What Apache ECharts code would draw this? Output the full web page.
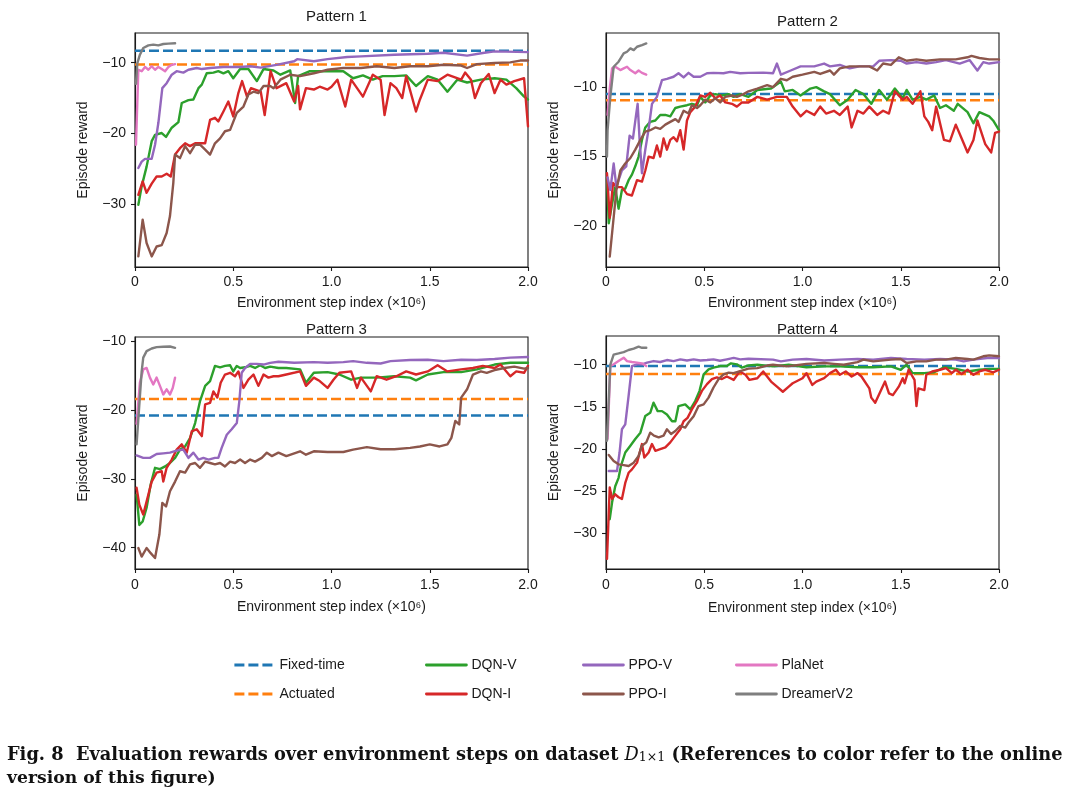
<!DOCTYPE html>
<html><head><meta charset="utf-8">
<script src="https://cdn.jsdelivr.net/npm/echarts@6/dist/echarts.min.js"></script>
<style>html,body{margin:0;padding:0;background:#fff}#c{width:1080px;height:801px}</style>
</head><body><div id="c"></div>
<script>
// ---------------- data (x in millions of steps, y = episode reward) ----------------
const xTicks = [0, 0.5, 1.0, 1.5, 2.0];
const xTickLabels = ['0', '0.5', '1.0', '1.5', '2.0'];

// Pattern 1
const p1_fixed = -8.3, p1_act = -10.25;
const p1_yticks = [-30, -20, -10];
const p1_dqnv = [[0.017,-30.1],[0.034,-27.5],[0.059,-24.7],[0.085,-21.1],[0.102,-20.2],[0.136,-19.95],[0.158,-20.5],[0.187,-19.2],[0.221,-18.4],[0.238,-15.7],[0.272,-15.3],[0.297,-15.2],[0.323,-13.6],[0.34,-13.1],[0.365,-11.5],[0.399,-11.4],[0.424,-11.2],[0.45,-11.5],[0.475,-11.2],[0.5,-12.2],[0.535,-10.9],[0.577,-10.9],[0.62,-12.6],[0.654,-10.9],[0.705,-11.1],[0.74,-11.7],[0.79,-11.1],[0.815,-15.7],[0.83,-11.9],[0.89,-11.2],[0.98,-11.2],[1.06,-11.2],[1.11,-12.2],[1.16,-11.8],[1.21,-12.4],[1.26,-11.9],[1.32,-11.9],[1.38,-11.8],[1.43,-13.3],[1.49,-11.9],[1.54,-12.4],[1.59,-14.1],[1.64,-12.4],[1.69,-12.8],[1.76,-12.4],[1.83,-12.2],[1.89,-12.4],[1.94,-13.6],[1.98,-14.8],[2.0,-15.2]];
const p1_dqni = [[0.017,-28.7],[0.039,-26.8],[0.059,-28.4],[0.085,-27.1],[0.11,-26.1],[0.136,-26.1],[0.161,-25.7],[0.182,-26.1],[0.204,-23],[0.229,-22.1],[0.255,-21.4],[0.28,-21.8],[0.306,-21.4],[0.331,-21.4],[0.357,-21.4],[0.382,-18.1],[0.407,-17.8],[0.424,-18.3],[0.45,-16.9],[0.475,-15.5],[0.5,-17.6],[0.526,-14.3],[0.545,-12.6],[0.57,-14.8],[0.59,-13.6],[0.64,-14.1],[0.66,-17.4],[0.69,-11.2],[0.72,-13.6],[0.77,-12.9],[0.81,-15.5],[0.83,-13.3],[0.84,-16.6],[0.87,-13.6],[0.91,-13.8],[0.94,-13.4],[0.98,-13.8],[1.0,-13.4],[1.03,-12.4],[1.07,-16.2],[1.1,-12.4],[1.13,-13.6],[1.16,-14.8],[1.21,-11.7],[1.25,-12.4],[1.27,-17.4],[1.3,-12.9],[1.33,-13.6],[1.36,-15],[1.38,-11.9],[1.43,-16.9],[1.45,-15.2],[1.49,-12.4],[1.54,-12.6],[1.59,-11.7],[1.66,-12.4],[1.68,-11.4],[1.71,-12.4],[1.73,-15],[1.76,-12.9],[1.8,-11.6],[1.83,-14.3],[1.86,-12.4],[1.89,-13.1],[1.93,-12.6],[1.98,-12.2],[2.0,-19]];
const p1_ppov = [[0.017,-24.9],[0.034,-24],[0.051,-23.6],[0.085,-23.6],[0.102,-21.6],[0.119,-18.5],[0.139,-13.6],[0.161,-12.9],[0.187,-11.7],[0.212,-11.2],[0.246,-11.4],[0.272,-11],[0.314,-10.75],[0.34,-10.9],[0.382,-10.75],[0.45,-10.6],[0.535,-10.6],[0.586,-10.5],[0.64,-10.7],[0.72,-10.3],[0.81,-9.8],[0.825,-9.5],[0.91,-9.8],[0.98,-9.5],[1.08,-9.2],[1.15,-9.1],[1.32,-8.87],[1.49,-8.73],[1.57,-8.6],[1.69,-9.0],[1.77,-8.63],[1.83,-8.4],[2.0,-8.5]];
const p1_ppoi = [[0.017,-37.4],[0.039,-32.2],[0.059,-35.5],[0.085,-37.4],[0.11,-36],[0.136,-35.8],[0.161,-34.1],[0.178,-31.7],[0.195,-27],[0.204,-23],[0.229,-23.5],[0.255,-21.8],[0.28,-22.8],[0.306,-21.6],[0.331,-21.6],[0.357,-22.3],[0.382,-23],[0.407,-21.4],[0.433,-20.7],[0.458,-19.7],[0.484,-19.5],[0.518,-17.1],[0.552,-16.2],[0.577,-14.5],[0.603,-14.1],[0.628,-14.3],[0.654,-13.3],[0.688,-13.3],[0.705,-13.6],[0.74,-12.4],[0.79,-11.7],[0.84,-11.9],[0.91,-11.5],[0.98,-11],[1.06,-10.75],[1.15,-10.75],[1.23,-10.5],[1.32,-10.75],[1.4,-10.5],[1.49,-10.5],[1.57,-10.3],[1.66,-10.4],[1.69,-10.75],[1.74,-10.2],[1.83,-10.05],[1.91,-9.95],[1.96,-9.7],[2.0,-9.7]];
const p1_planet = [[0.005,-21.6],[0.017,-11],[0.034,-11.2],[0.051,-10.6],[0.068,-11],[0.085,-10.5],[0.102,-11],[0.119,-10.6],[0.136,-10.9],[0.153,-11.2],[0.17,-10.6],[0.187,-10.3],[0.204,-10.2]];
const p1_dreamer = [[0.005,-13],[0.012,-10.05],[0.025,-8.87],[0.042,-7.92],[0.068,-7.55],[0.093,-7.45],[0.119,-7.55],[0.144,-7.36],[0.17,-7.31],[0.204,-7.26]];

// Pattern 2
const p2_fixed = -10.5, p2_act = -10.95;
const p2_yticks = [-20, -15, -10];
const p2_dqnv = [[0.005,-16.5],[0.014,-19.8],[0.031,-18.4],[0.047,-17.2],[0.064,-18.75],[0.081,-17.4],[0.098,-17.3],[0.115,-16.7],[0.132,-16.3],[0.149,-15.7],[0.166,-15],[0.183,-13.8],[0.2,-12.9],[0.225,-12.5],[0.251,-12.4],[0.276,-12.0],[0.302,-12.0],[0.327,-12.1],[0.353,-11.5],[0.378,-11.4],[0.412,-11.3],[0.437,-11.2],[0.463,-11.3],[0.48,-10.7],[0.505,-11.1],[0.531,-10.6],[0.556,-10.5],[0.59,-10.6],[0.624,-10.5],[0.649,-10.7],[0.683,-10.5],[0.725,-10.7],[0.77,-10.2],[0.84,-10.1],[0.89,-9.6],[0.91,-10.3],[0.95,-10.2],[0.99,-10.6],[1.04,-10.1],[1.07,-10],[1.11,-10.3],[1.14,-10.5],[1.19,-11.3],[1.23,-10.9],[1.27,-10.2],[1.31,-10.5],[1.35,-11.2],[1.39,-10.2],[1.43,-10.9],[1.47,-10.1],[1.51,-10.8],[1.53,-10.2],[1.56,-10.9],[1.6,-10.7],[1.63,-10.9],[1.67,-10.6],[1.7,-11.5],[1.73,-11.3],[1.77,-11.7],[1.79,-11.2],[1.84,-11.8],[1.87,-12.6],[1.9,-11.8],[1.95,-12.1],[1.97,-12.4],[2.0,-13.1]];
const p2_dqni = [[0.005,-16.2],[0.019,-19.4],[0.036,-16.9],[0.056,-17.2],[0.081,-17.2],[0.107,-17.7],[0.132,-17.8],[0.158,-16.7],[0.183,-16.8],[0.2,-16],[0.217,-15],[0.242,-15.1],[0.259,-14.2],[0.276,-15.0],[0.293,-13.7],[0.31,-14.5],[0.327,-13.8],[0.344,-13.6],[0.361,-13.9],[0.378,-13.1],[0.395,-14.5],[0.412,-12.4],[0.429,-11.8],[0.454,-11.4],[0.48,-10.6],[0.505,-10.7],[0.531,-10.4],[0.556,-10.8],[0.581,-10.6],[0.607,-11.1],[0.641,-11.2],[0.666,-11.4],[0.692,-11.1],[0.725,-11.1],[0.77,-10.7],[0.82,-10.9],[0.87,-10.7],[0.92,-10.7],[0.95,-11.4],[0.99,-12.1],[1.02,-11.7],[1.06,-12],[1.09,-11.4],[1.12,-11.9],[1.16,-11.7],[1.19,-12],[1.23,-11.4],[1.25,-12.9],[1.28,-11.7],[1.31,-11.9],[1.34,-11.4],[1.38,-12],[1.41,-11.7],[1.44,-11.9],[1.47,-10.3],[1.51,-10.9],[1.53,-10.7],[1.56,-11.2],[1.6,-10.3],[1.62,-12.1],[1.64,-12.5],[1.66,-13.1],[1.68,-11.4],[1.72,-13.8],[1.75,-13.9],[1.78,-12.7],[1.81,-13.7],[1.84,-14.7],[1.87,-13.8],[1.89,-12.4],[1.93,-14.1],[1.96,-14.7],[1.98,-13.3],[2.0,-13.2]];
const p2_ppov = [[0.008,-16.5],[0.022,-17.4],[0.039,-15.5],[0.053,-17.2],[0.064,-16.7],[0.081,-16],[0.103,-15.7],[0.12,-13.5],[0.137,-13.7],[0.154,-11.9],[0.161,-11.2],[0.171,-13.8],[0.183,-16.2],[0.2,-14.5],[0.217,-13],[0.234,-11.2],[0.259,-10.7],[0.285,-9.5],[0.31,-9.4],[0.344,-9.25],[0.369,-9.0],[0.395,-9.3],[0.42,-8.97],[0.446,-9.25],[0.48,-9.25],[0.514,-9.0],[0.547,-8.97],[0.598,-9.0],[0.632,-8.9],[0.683,-9.0],[0.725,-8.97],[0.8,-8.95],[0.85,-9.0],[0.87,-8.3],[0.89,-9.1],[0.94,-8.8],[0.99,-8.5],[1.06,-8.5],[1.11,-8.3],[1.14,-8.5],[1.19,-8.4],[1.24,-8.65],[1.29,-8.5],[1.36,-8.5],[1.39,-8.1],[1.45,-8.05],[1.5,-8.1],[1.53,-8.3],[1.58,-8.2],[1.63,-8.3],[1.68,-8.2],[1.73,-8.05],[1.8,-8.3],[1.85,-8.05],[1.89,-8.8],[1.92,-8.2],[1.95,-8.3],[2.0,-8.2]];
const p2_ppoi = [[0.019,-22.2],[0.036,-19.8],[0.053,-17.4],[0.073,-16],[0.098,-15.5],[0.124,-15.1],[0.149,-14.5],[0.175,-13.8],[0.2,-13.2],[0.225,-13.1],[0.251,-12.9],[0.276,-13],[0.302,-12.7],[0.327,-12.5],[0.353,-12.3],[0.369,-12.5],[0.395,-11.7],[0.42,-11.9],[0.437,-11.3],[0.463,-11.5],[0.48,-11.3],[0.505,-10.9],[0.531,-11.1],[0.556,-10.8],[0.581,-11.1],[0.607,-10.7],[0.641,-10.6],[0.666,-10.7],[0.7,-10.5],[0.725,-10.3],[0.77,-10.1],[0.82,-9.85],[0.85,-10],[0.89,-9.4],[0.92,-9.5],[0.95,-9.25],[1.0,-9.1],[1.06,-8.9],[1.09,-9.05],[1.14,-8.8],[1.16,-9.1],[1.19,-8.65],[1.24,-8.5],[1.29,-8.5],[1.34,-8.5],[1.38,-8.8],[1.41,-8.3],[1.45,-8.4],[1.49,-7.85],[1.53,-8.1],[1.58,-8.0],[1.63,-8.1],[1.7,-8.0],[1.78,-8.0],[1.84,-7.85],[1.86,-7.75],[1.9,-7.9],[1.95,-8.0],[2.0,-8.0]];
const p2_planet = [[0.008,-12],[0.019,-10.1],[0.031,-8.65],[0.047,-8.53],[0.073,-8.77],[0.09,-8.65],[0.107,-8.53],[0.124,-8.77],[0.149,-9.0],[0.166,-8.8],[0.183,-8.97],[0.205,-9.1]];
const p2_dreamer = [[0.005,-15],[0.008,-13.1],[0.022,-10.7],[0.039,-8.53],[0.064,-8.17],[0.09,-7.57],[0.107,-7.45],[0.124,-7.21],[0.141,-7.33],[0.158,-7.09],[0.183,-6.97],[0.205,-6.85]];

// Pattern 3
const p3_fixed = -20.8, p3_act = -18.4;
const p3_yticks = [-40, -30, -20, -10];
const p3_dqnv = [[0.008,-32.3],[0.022,-36.7],[0.039,-36.2],[0.059,-34.2],[0.08,-30.8],[0.102,-28.4],[0.127,-28.6],[0.153,-28.2],[0.178,-27.7],[0.204,-26.96],[0.229,-25.75],[0.255,-25.3],[0.28,-24.1],[0.306,-21.9],[0.331,-18.7],[0.357,-16.5],[0.382,-15.8],[0.407,-13.6],[0.433,-13.8],[0.458,-13.6],[0.484,-13.5],[0.5,-14.4],[0.518,-13.6],[0.535,-13.9],[0.56,-13.8],[0.586,-13.6],[0.611,-13.9],[0.637,-13.5],[0.662,-13.9],[0.688,-13.7],[0.73,-13.9],[0.77,-13.9],[0.84,-14.1],[0.87,-16.05],[0.91,-14.6],[0.98,-14.5],[1.04,-14.85],[1.1,-15.6],[1.15,-15.3],[1.23,-15.3],[1.32,-15.1],[1.4,-15.3],[1.43,-15.7],[1.49,-14.85],[1.57,-14.5],[1.66,-14.5],[1.74,-14.1],[1.83,-13.4],[1.91,-13.15],[2.0,-13.15]];
const p3_dqni = [[0.008,-31.3],[0.022,-33.75],[0.042,-35.2],[0.068,-32.3],[0.085,-30.4],[0.11,-29.1],[0.136,-28.9],[0.144,-30.4],[0.161,-28.4],[0.187,-27.2],[0.212,-25.75],[0.238,-25.0],[0.263,-26.2],[0.289,-23.1],[0.314,-22.8],[0.34,-23.8],[0.357,-19.2],[0.382,-18.97],[0.399,-17.3],[0.419,-18.2],[0.436,-16.05],[0.458,-14.85],[0.484,-14.6],[0.509,-15.1],[0.526,-14.4],[0.552,-16.8],[0.577,-15.6],[0.603,-14.85],[0.628,-16.5],[0.654,-14.85],[0.679,-15.3],[0.705,-15.1],[0.73,-15.1],[0.77,-14.85],[0.84,-14.4],[0.87,-16.5],[0.91,-15.3],[0.94,-15.8],[0.98,-16.8],[1.01,-15.6],[1.04,-14.6],[1.1,-14.4],[1.13,-16.8],[1.15,-15.3],[1.18,-16.5],[1.2,-17.3],[1.23,-15.1],[1.28,-15.6],[1.33,-15.1],[1.38,-14.4],[1.43,-14.85],[1.49,-14.4],[1.54,-13.5],[1.59,-14.4],[1.66,-14.1],[1.72,-13.9],[1.77,-13.6],[1.83,-13.9],[1.86,-13.4],[1.91,-15.1],[1.94,-14.4],[1.98,-14.6],[2.0,-13.6]];
const p3_ppov = [[0.008,-26.6],[0.042,-26.96],[0.076,-26.96],[0.11,-26.4],[0.144,-26.3],[0.178,-26.2],[0.212,-25.9],[0.246,-25.75],[0.272,-26.96],[0.297,-26.2],[0.323,-27.2],[0.348,-26.96],[0.374,-27.2],[0.407,-26.96],[0.424,-26.96],[0.441,-25.5],[0.467,-23.6],[0.492,-22.8],[0.518,-21.9],[0.531,-18.7],[0.543,-14.6],[0.56,-13.9],[0.586,-13.3],[0.62,-13.3],[0.654,-13.4],[0.688,-13.15],[0.73,-13],[0.81,-13.15],[0.91,-13.05],[0.98,-13.15],[1.06,-13.05],[1.11,-12.9],[1.18,-13.15],[1.25,-13.25],[1.3,-12.9],[1.4,-12.75],[1.49,-12.7],[1.57,-12.9],[1.66,-12.7],[1.74,-12.75],[1.83,-12.6],[1.91,-12.4],[2.0,-12.3]];
const p3_ppoi = [[0.017,-40.05],[0.034,-41.3],[0.059,-40.05],[0.08,-40.8],[0.102,-41.5],[0.124,-38.1],[0.139,-33.5],[0.158,-34],[0.178,-31.8],[0.204,-30.4],[0.229,-28.9],[0.255,-29.1],[0.28,-27.9],[0.306,-27.7],[0.331,-28.4],[0.357,-27.5],[0.382,-27.7],[0.407,-27.9],[0.433,-27.7],[0.458,-28.2],[0.484,-27.5],[0.509,-27.7],[0.535,-27.2],[0.56,-27.7],[0.586,-27.2],[0.611,-27.5],[0.645,-26.96],[0.671,-26.2],[0.696,-26.7],[0.73,-26.2],[0.77,-26.7],[0.84,-26.0],[0.87,-26.5],[0.91,-26.0],[0.98,-26.1],[1.06,-26.1],[1.11,-25.75],[1.18,-25.4],[1.25,-25.7],[1.32,-25.7],[1.4,-25.5],[1.45,-25.3],[1.5,-25.0],[1.55,-25.3],[1.59,-25.0],[1.61,-24.05],[1.63,-21.6],[1.65,-22.1],[1.66,-18.2],[1.69,-17.0],[1.72,-14.85],[1.76,-14.4],[1.79,-14.6],[1.83,-14.2],[1.88,-13.9],[1.93,-13.7],[1.98,-14.0],[2.0,-13.9]];
const p3_planet = [[0.008,-22],[0.025,-16],[0.042,-14.1],[0.059,-13.9],[0.076,-15.3],[0.093,-16.3],[0.11,-15.3],[0.127,-16.5],[0.144,-17.75],[0.161,-17],[0.178,-17.75],[0.192,-16.8],[0.204,-15.3]];
const p3_dreamer = [[0.008,-25],[0.025,-18],[0.034,-14.4],[0.042,-12.4],[0.059,-11.45],[0.085,-11.07],[0.11,-10.87],[0.144,-10.82],[0.178,-10.78],[0.204,-10.97]];

// Pattern 4
const p4_fixed = -10.15, p4_act = -11.1;
const p4_yticks = [-30, -25, -20, -15, -10];
const p4_dqnv = [[0.019,-28.3],[0.031,-26.3],[0.047,-24.4],[0.064,-23.4],[0.076,-22.0],[0.098,-20.4],[0.124,-19.6],[0.149,-18.8],[0.175,-18.05],[0.2,-16.07],[0.225,-15.7],[0.242,-14.5],[0.263,-15.5],[0.285,-15.5],[0.31,-15.9],[0.336,-16.7],[0.353,-16.7],[0.369,-14.9],[0.403,-14.7],[0.429,-15.3],[0.454,-14.3],[0.476,-13.1],[0.497,-11.15],[0.522,-10.55],[0.547,-10.35],[0.581,-10.16],[0.615,-10.16],[0.636,-9.84],[0.666,-9.96],[0.692,-10.35],[0.725,-10.08],[0.77,-10.0],[0.85,-10.2],[0.93,-10.0],[1.02,-10.3],[1.11,-10.2],[1.19,-10.2],[1.28,-10.3],[1.36,-10.3],[1.45,-10.2],[1.5,-10.6],[1.53,-10.0],[1.56,-11.0],[1.62,-11.0],[1.67,-10.9],[1.72,-10.3],[1.78,-10.5],[1.84,-10.8],[1.9,-10.6],[1.95,-10.5],[2.0,-10.5]];
const p4_dqni = [[0.005,-33.0],[0.019,-24.55],[0.031,-25.9],[0.047,-25.35],[0.064,-25.7],[0.081,-25.9],[0.098,-24.0],[0.115,-22.8],[0.132,-22.4],[0.158,-21.6],[0.183,-19.4],[0.195,-21.0],[0.217,-20.4],[0.234,-19.4],[0.251,-20.2],[0.276,-20.0],[0.302,-19.8],[0.327,-19.2],[0.353,-18.4],[0.378,-17.65],[0.395,-16.7],[0.415,-16.3],[0.437,-15.3],[0.463,-14.3],[0.488,-13.1],[0.514,-12.3],[0.539,-11.7],[0.564,-11.5],[0.59,-11.7],[0.615,-11.4],[0.65,-11.8],[0.68,-10.8],[0.71,-11.2],[0.73,-11.8],[0.77,-11.6],[0.8,-10.8],[0.84,-12],[0.87,-12.6],[0.9,-13.2],[0.93,-12.6],[0.95,-12.2],[1.0,-11.6],[1.02,-11],[1.05,-12.4],[1.07,-12.0],[1.11,-11.6],[1.14,-11.0],[1.17,-10.6],[1.19,-11.2],[1.22,-10.8],[1.25,-11.4],[1.28,-11.0],[1.3,-11.4],[1.34,-12.8],[1.35,-13.9],[1.37,-14.5],[1.4,-13.0],[1.42,-12],[1.44,-13.4],[1.46,-13.6],[1.49,-12.6],[1.51,-11.6],[1.52,-12.2],[1.54,-10.6],[1.57,-11.8],[1.58,-14.9],[1.59,-12.8],[1.62,-13.0],[1.63,-11.2],[1.66,-10.8],[1.7,-10.6],[1.73,-10.4],[1.76,-11.0],[1.78,-10.6],[1.81,-11.1],[1.84,-10.6],[1.87,-11.2],[1.9,-10.8],[1.93,-10.6],[1.97,-10.9],[2.0,-10.6]];
const p4_ppov = [[0.014,-22.6],[0.039,-22.6],[0.056,-22.6],[0.069,-20.4],[0.081,-17.65],[0.098,-17.06],[0.115,-13.7],[0.132,-10.16],[0.158,-9.96],[0.183,-9.96],[0.209,-9.76],[0.242,-9.57],[0.276,-9.68],[0.31,-9.45],[0.344,-9.57],[0.378,-9.37],[0.412,-9.5],[0.446,-9.37],[0.48,-9.5],[0.514,-9.45],[0.547,-9.37],[0.58,-9.53],[0.615,-9.37],[0.65,-9.2],[0.683,-9.37],[0.725,-9.3],[0.85,-9.4],[0.89,-9.6],[0.95,-9.4],[1.02,-9.33],[1.11,-9.5],[1.19,-9.4],[1.28,-9.33],[1.36,-9.4],[1.45,-9.2],[1.53,-9.33],[1.62,-9.4],[1.7,-9.33],[1.78,-9.4],[1.82,-9.6],[1.87,-9.4],[1.94,-9.2],[2.0,-9.2]];
const p4_ppoi = [[0.014,-20.7],[0.039,-21.4],[0.064,-21.8],[0.09,-21.9],[0.115,-22.0],[0.141,-21.6],[0.166,-20.8],[0.183,-19.6],[0.205,-19.2],[0.225,-18.05],[0.244,-18.4],[0.268,-18.6],[0.293,-18.4],[0.31,-17.65],[0.331,-18.2],[0.353,-17.85],[0.378,-17.25],[0.403,-17.45],[0.42,-16.85],[0.446,-16.1],[0.471,-14.9],[0.497,-14.7],[0.522,-13.9],[0.547,-12.7],[0.573,-11.7],[0.598,-11.15],[0.624,-10.95],[0.649,-11.0],[0.683,-10.75],[0.725,-10.47],[0.77,-10.4],[0.82,-10.1],[0.85,-10.0],[0.92,-10.2],[0.99,-10.0],[1.02,-9.9],[1.11,-9.8],[1.16,-9.9],[1.21,-10.0],[1.28,-9.7],[1.31,-9.4],[1.36,-9.6],[1.45,-9.4],[1.5,-9.33],[1.53,-9.8],[1.58,-9.6],[1.63,-9.6],[1.68,-9.4],[1.73,-9.4],[1.78,-9.2],[1.84,-9.33],[1.87,-9.4],[1.92,-9.0],[1.95,-8.9],[2.0,-9.0]];
const p4_planet = [[0.008,-18.8],[0.022,-10.16],[0.039,-9.96],[0.064,-9.57],[0.09,-9.17],[0.107,-9.57],[0.132,-9.68],[0.158,-9.76],[0.183,-9.84],[0.205,-10.16]];
const p4_dreamer = [[0.005,-19],[0.022,-10],[0.039,-8.8],[0.064,-8.66],[0.09,-8.5],[0.115,-8.26],[0.141,-8.1],[0.166,-7.87],[0.183,-8.0],[0.205,-8.0]];

const titles = ['Pattern 1', 'Pattern 2', 'Pattern 3', 'Pattern 4'];
const seriesNames = ['Fixed-time', 'Actuated', 'DQN-V', 'DQN-I', 'PPO-V', 'PPO-I', 'PlaNet', 'DreamerV2'];

// ---------------- assembly ----------------
const panels = [
  {fixed:p1_fixed, act:p1_act, lines:[p1_dqnv,p1_dqni,p1_ppov,p1_ppoi,p1_planet,p1_dreamer], yMin:-38.9, yMax:-5.8, yTicks:p1_yticks},
  {fixed:p2_fixed, act:p2_act, lines:[p2_dqnv,p2_dqni,p2_ppov,p2_ppoi,p2_planet,p2_dreamer], yMin:-22.95, yMax:-6.1, yTicks:p2_yticks},
  {fixed:p3_fixed, act:p3_act, lines:[p3_dqnv,p3_dqni,p3_ppov,p3_ppoi,p3_planet,p3_dreamer], yMin:-43.1, yMax:-9.4, yTicks:p3_yticks},
  {fixed:p4_fixed, act:p4_act, lines:[p4_dqnv,p4_dqni,p4_ppov,p4_ppoi,p4_planet,p4_dreamer], yMin:-34.2, yMax:-6.6, yTicks:p4_yticks}
];
const layout = [
  {left:135, top:33, width:393, height:234, titleTop:4, nameGap:29, labelMargin:8},
  {left:606, top:33, width:393, height:234, titleTop:9, nameGap:29, labelMargin:8},
  {left:135, top:337, width:393, height:232, titleTop:317, nameGap:31, labelMargin:9},
  {left:606, top:336, width:393, height:233, titleTop:317, nameGap:32, labelMargin:9}
];
const colors = ['#1f77b4', '#ff7f0e', '#2ca02c', '#d62728', '#9467bd', '#8c564b', '#e377c2', '#7f7f7f'];
const FONT = 'Liberation Sans';
const INK = '#1a1a1a';
const DASH = [10, 4];
const minus = v => (v < 0 ? '\u2212' + Math.abs(v) : String(v));

const grid = [], xAxis = [], yAxis = [], title = [], series = [];
panels.forEach((p, i) => {
  const L = layout[i];
  grid.push({left:L.left, top:L.top, width:L.width, height:L.height, show:true, borderColor:INK, borderWidth:1.1, backgroundColor:'transparent'});
  title.push({text:titles[i], left:L.left + L.width / 2, top:L.titleTop, textAlign:'center',
    textStyle:{fontFamily:FONT, fontSize:15, fontWeight:'normal', color:INK}});
  xAxis.push({type:'value', gridIndex:i, min:0, max:2, interval:0.5,
    name:'Environment step index (\u00d710\u2076)', nameLocation:'middle', nameGap:L.nameGap,
    nameTextStyle:{fontFamily:FONT, fontSize:14, color:INK},
    axisLine:{show:true, onZero:false, lineStyle:{color:INK, width:1.1}},
    axisTick:{show:true, inside:false, length:4, lineStyle:{color:INK, width:1.1}},
    axisLabel:{fontFamily:FONT, fontSize:14, color:INK, margin:L.labelMargin,
      formatter: v => { const k = xTicks.findIndex(t => Math.abs(t - v) < 1e-9); return k >= 0 ? xTickLabels[k] : ''; }},
    splitLine:{show:false}});
  yAxis.push({type:'value', gridIndex:i, min:p.yMin, max:p.yMax,
    name:'Episode reward', nameLocation:'middle', nameGap:45, nameRotate:90,
    nameTextStyle:{fontFamily:FONT, fontSize:14, color:INK},
    axisLine:{show:true, onZero:false, lineStyle:{color:INK, width:1.1}},
    axisTick:{show:true, length:4, customValues:p.yTicks, lineStyle:{color:INK, width:1.1}},
    axisLabel:{fontFamily:FONT, fontSize:14, color:INK, margin:9, customValues:p.yTicks, formatter:minus},
    splitLine:{show:false}});
  const base = {type:'line', xAxisIndex:i, yAxisIndex:i, symbol:'none', showSymbol:false, animation:false, silent:true};
  series.push(Object.assign({}, base, {name:seriesNames[0], data:[[0, p.fixed], [2, p.fixed]], z:2,
    itemStyle:{color:colors[0]}, lineStyle:{color:colors[0], width:2.5, type:DASH}}));
  series.push(Object.assign({}, base, {name:seriesNames[1], data:[[0, p.act], [2, p.act]], z:2,
    itemStyle:{color:colors[1]}, lineStyle:{color:colors[1], width:2.5, type:DASH}}));
  p.lines.forEach((d, k) => {
    series.push(Object.assign({}, base, {name:seriesNames[k + 2], data:d, z:3 + k,
      itemStyle:{color:colors[k + 2]}, lineStyle:{color:colors[k + 2], width:2.4, type:'solid', cap:'round', join:'round'}}));
  });
});

const legendCols = [[0, 1], [2, 3], [4, 5], [6, 7]];
const legendLefts = [228, 420, 577, 730];
const legend = legendCols.map((c, j) => ({
  orient:'vertical', left:legendLefts[j], top:653, itemWidth:40, itemHeight:14, itemGap:15,
  data:c.map(k => seriesNames[k]), selectedMode:false,
  itemStyle:{opacity:0, borderWidth:0},
  lineStyle:{width:2.8},
  textStyle:{fontFamily:FONT, fontSize:14, color:INK}
}));

const chart = echarts.init(document.getElementById('c'), null, {renderer:'canvas'});
chart.setOption({
  backgroundColor:'#ffffff', animation:false,
  title, grid, xAxis, yAxis, legend, series,
  graphic:[
    {type:'text', left:7, top:746, style:{
      text:'{a|Fig. 8  Evaluation rewards over environment steps on dataset }{i|D}{s|1\u00d71}{a| (References to color refer to the online}',
      rich:{
        a:{fontFamily:'DejaVu Serif', fontWeight:'bold', fontSize:17.8, fill:'#111', verticalAlign:'bottom', lineHeight:21},
        i:{fontFamily:'DejaVu Serif', fontStyle:'italic', fontWeight:'normal', fontSize:17.8, fill:'#111', verticalAlign:'bottom', lineHeight:21},
        s:{fontFamily:'DejaVu Serif', fontWeight:'normal', fontSize:12.5, fill:'#111', verticalAlign:'bottom', lineHeight:16}
      }}},
    {type:'text', left:7, top:770, style:{text:'version of this figure)',
      font:'bold 17.2px "DejaVu Serif"', fill:'#111'}}
  ]
});
</script></body></html>
